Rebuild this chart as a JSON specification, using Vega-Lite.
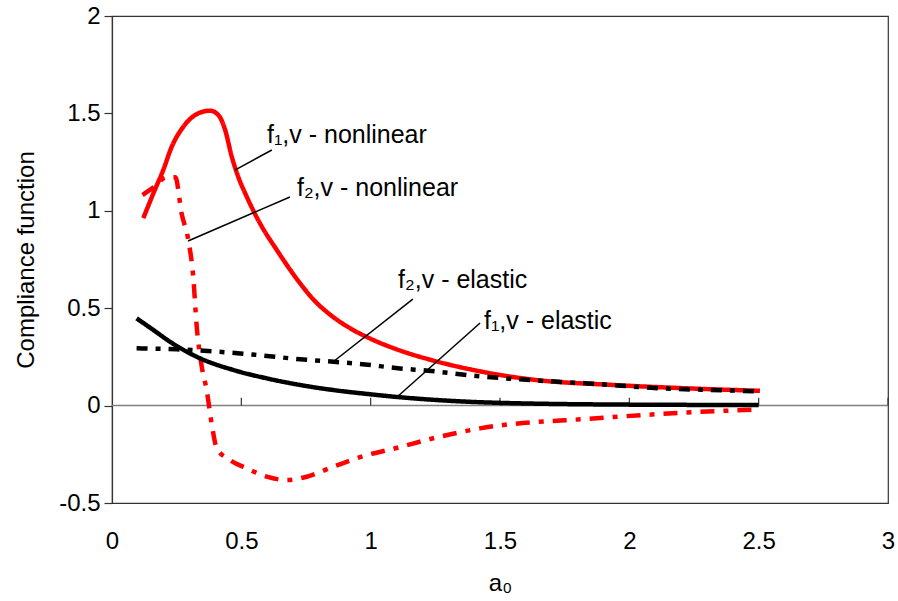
{
  "$schema": "https://vega.github.io/schema/vega-lite/v6.json",
  "width": 776,
  "height": 487,
  "autosize": {"type": "none"},
  "padding": {"left": 112, "top": 16, "right": 10, "bottom": 98},
  "background": "white",
  "view": {"stroke": "#333333", "strokeWidth": 1.2},
  "config": {"font": "Liberation Sans"},
  "datasets": {
    "curves": [
      {"s": "f1n", "x": 0.121, "y": 0.962},
      {"s": "f1n", "x": 0.16, "y": 1.09},
      {"s": "f1n", "x": 0.198, "y": 1.209},
      {"s": "f1n", "x": 0.231, "y": 1.329},
      {"s": "f1n", "x": 0.276, "y": 1.432},
      {"s": "f1n", "x": 0.34, "y": 1.504},
      {"s": "f1n", "x": 0.379, "y": 1.514},
      {"s": "f1n", "x": 0.411, "y": 1.492},
      {"s": "f1n", "x": 0.437, "y": 1.417},
      {"s": "f1n", "x": 0.463, "y": 1.278},
      {"s": "f1n", "x": 0.488, "y": 1.175},
      {"s": "f1n", "x": 0.521, "y": 1.072},
      {"s": "f1n", "x": 0.572, "y": 0.936},
      {"s": "f1n", "x": 0.637, "y": 0.799},
      {"s": "f1n", "x": 0.727, "y": 0.628},
      {"s": "f1n", "x": 0.777, "y": 0.547},
      {"s": "f1n", "x": 0.85, "y": 0.46},
      {"s": "f1n", "x": 0.93, "y": 0.39},
      {"s": "f1n", "x": 1.0, "y": 0.343},
      {"s": "f1n", "x": 1.113, "y": 0.283},
      {"s": "f1n", "x": 1.229, "y": 0.236},
      {"s": "f1n", "x": 1.423, "y": 0.176},
      {"s": "f1n", "x": 1.616, "y": 0.135},
      {"s": "f1n", "x": 1.937, "y": 0.106},
      {"s": "f1n", "x": 2.196, "y": 0.09},
      {"s": "f1n", "x": 2.505, "y": 0.076},
      {"s": "f2n", "x": 0.118, "y": 1.081},
      {"s": "f2n", "x": 0.16, "y": 1.12},
      {"s": "f2n", "x": 0.211, "y": 1.172},
      {"s": "f2n", "x": 0.245, "y": 1.172},
      {"s": "f2n", "x": 0.269, "y": 0.987},
      {"s": "f2n", "x": 0.295, "y": 0.85},
      {"s": "f2n", "x": 0.314, "y": 0.662},
      {"s": "f2n", "x": 0.327, "y": 0.414},
      {"s": "f2n", "x": 0.347, "y": 0.2},
      {"s": "f2n", "x": 0.366, "y": 0.08},
      {"s": "f2n", "x": 0.385, "y": -0.091},
      {"s": "f2n", "x": 0.405, "y": -0.219},
      {"s": "f2n", "x": 0.456, "y": -0.279},
      {"s": "f2n", "x": 0.521, "y": -0.322},
      {"s": "f2n", "x": 0.598, "y": -0.365},
      {"s": "f2n", "x": 0.675, "y": -0.382},
      {"s": "f2n", "x": 0.753, "y": -0.365},
      {"s": "f2n", "x": 0.855, "y": -0.314},
      {"s": "f2n", "x": 0.985, "y": -0.254},
      {"s": "f2n", "x": 1.081, "y": -0.224},
      {"s": "f2n", "x": 1.25, "y": -0.165},
      {"s": "f2n", "x": 1.422, "y": -0.117},
      {"s": "f2n", "x": 1.873, "y": -0.065},
      {"s": "f2n", "x": 2.2, "y": -0.037},
      {"s": "f2n", "x": 2.5, "y": -0.02},
      {"s": "f2e", "x": 0.095, "y": 0.294},
      {"s": "f2e", "x": 0.25, "y": 0.289},
      {"s": "f2e", "x": 0.495, "y": 0.268},
      {"s": "f2e", "x": 0.727, "y": 0.238},
      {"s": "f2e", "x": 0.959, "y": 0.214},
      {"s": "f2e", "x": 1.113, "y": 0.191},
      {"s": "f2e", "x": 1.222, "y": 0.179},
      {"s": "f2e", "x": 1.411, "y": 0.152},
      {"s": "f2e", "x": 1.616, "y": 0.131},
      {"s": "f2e", "x": 1.84, "y": 0.114},
      {"s": "f2e", "x": 2.118, "y": 0.089},
      {"s": "f2e", "x": 2.427, "y": 0.076},
      {"s": "f2e", "x": 2.5, "y": 0.072},
      {"s": "f1e", "x": 0.095, "y": 0.448},
      {"s": "f1e", "x": 0.16, "y": 0.388},
      {"s": "f1e", "x": 0.224, "y": 0.328},
      {"s": "f1e", "x": 0.34, "y": 0.243},
      {"s": "f1e", "x": 0.469, "y": 0.183},
      {"s": "f1e", "x": 0.598, "y": 0.14},
      {"s": "f1e", "x": 0.727, "y": 0.106},
      {"s": "f1e", "x": 0.855, "y": 0.08},
      {"s": "f1e", "x": 0.985, "y": 0.06},
      {"s": "f1e", "x": 1.113, "y": 0.043},
      {"s": "f1e", "x": 1.3, "y": 0.025},
      {"s": "f1e", "x": 1.5, "y": 0.014},
      {"s": "f1e", "x": 2.0, "y": 0.005},
      {"s": "f1e", "x": 2.5, "y": 0.003}
    ],
    "leaders": [
      {"x": 0.475, "y": 1.209, "x2": 0.618, "y2": 1.312},
      {"x": 0.294, "y": 0.845, "x2": 0.688, "y2": 1.071},
      {"x": 0.854, "y": 0.224, "x2": 1.163, "y2": 0.547},
      {"x": 1.102, "y": 0.044, "x2": 1.423, "y2": 0.424}
    ],
    "labels": [
      {"x": 0.599, "y": 1.389, "t": "f₁,v - nonlinear"},
      {"x": 0.715, "y": 1.117, "t": "f₂,v - nonlinear"},
      {"x": 1.106, "y": 0.645, "t": "f₂,v - elastic"},
      {"x": 1.438, "y": 0.434, "t": "f₁,v - elastic"}
    ],
    "zero": [{"x": 0, "x2": 3, "y": 0}],
    "ticks": [
      {"x": 0.5, "y": 0, "y2": 0.04},
      {"x": 1, "y": 0, "y2": 0.04},
      {"x": 1.5, "y": 0, "y2": 0.04},
      {"x": 2, "y": 0, "y2": 0.04},
      {"x": 2.5, "y": 0, "y2": 0.04},
      {"x": 3, "y": 0, "y2": 0.04}
    ]
  },
  "layer": [
    {
      "data": {"name": "zero"},
      "mark": {"type": "rule", "color": "#808080", "strokeWidth": 1.5},
      "encoding": {
        "x": {"field": "x", "type": "quantitative", "scale": {"domain": [0, 3], "nice": false, "zero": false},
          "axis": {"values": [0, 0.5, 1, 1.5, 2, 2.5, 3], "labelExpr": "'' + datum.value", "ticks": false, "tickSize": 0,
            "grid": false, "domainColor": "#333333", "domainWidth": 1.2, "labelFontSize": 24, "labelColor": "#000000",
            "labelPadding": 26, "labelFlush": false, "labelOverlap": false, "title": "a₀", "titleFontSize": 24,
            "titleFontWeight": "normal", "titleColor": "#000000", "titlePadding": 18}},
        "x2": {"field": "x2"},
        "y": {"field": "y", "type": "quantitative", "scale": {"domain": [-0.5, 2], "nice": false, "zero": false},
          "axis": {"values": [-0.5, 0, 0.5, 1, 1.5, 2], "labelExpr": "'' + datum.value", "grid": false,
            "domainColor": "#333333", "domainWidth": 1.2, "tickColor": "#333333", "tickSize": 8, "tickWidth": 1.2,
            "labelFontSize": 24, "labelColor": "#000000", "labelPadding": 4, "labelFlush": false, "labelOverlap": false,
            "title": "Compliance function", "titleFontSize": 24, "titleFontWeight": "normal", "titleColor": "#000000",
            "titlePadding": 20}}
      }
    },
    {
      "data": {"name": "ticks"},
      "mark": {"type": "rule", "color": "#333333", "strokeWidth": 1.2},
      "encoding": {
        "x": {"field": "x", "type": "quantitative"},
        "y": {"field": "y", "type": "quantitative"},
        "y2": {"field": "y2"}
      }
    },
    {
      "data": {"name": "curves"},
      "mark": {"type": "line", "strokeWidth": 4.5, "interpolate": "monotone"},
      "encoding": {
        "x": {"field": "x", "type": "quantitative"},
        "y": {"field": "y", "type": "quantitative"},
        "detail": {"field": "s"},
        "color": {"field": "s", "type": "nominal", "legend": null,
          "scale": {"domain": ["f1n", "f2n", "f2e", "f1e"], "range": ["#ff0000", "#ff0000", "#000000", "#000000"]}},
        "strokeDash": {"field": "s", "type": "nominal", "legend": null,
          "scale": {"domain": ["f1n", "f2n", "f2e", "f1e"], "range": [[1, 0], [14, 9, 5, 9], [11, 8, 5, 8], [1, 0]]}}
      }
    },
    {
      "data": {"name": "leaders"},
      "mark": {"type": "rule", "color": "#000000", "strokeWidth": 1.5},
      "encoding": {
        "x": {"field": "x", "type": "quantitative"},
        "y": {"field": "y", "type": "quantitative"},
        "x2": {"field": "x2"},
        "y2": {"field": "y2"}
      }
    },
    {
      "data": {"name": "labels"},
      "mark": {"type": "text", "align": "left", "baseline": "middle", "fontSize": 25, "color": "#000000"},
      "encoding": {
        "x": {"field": "x", "type": "quantitative"},
        "y": {"field": "y", "type": "quantitative"},
        "text": {"field": "t"}
      }
    }
  ]
}
